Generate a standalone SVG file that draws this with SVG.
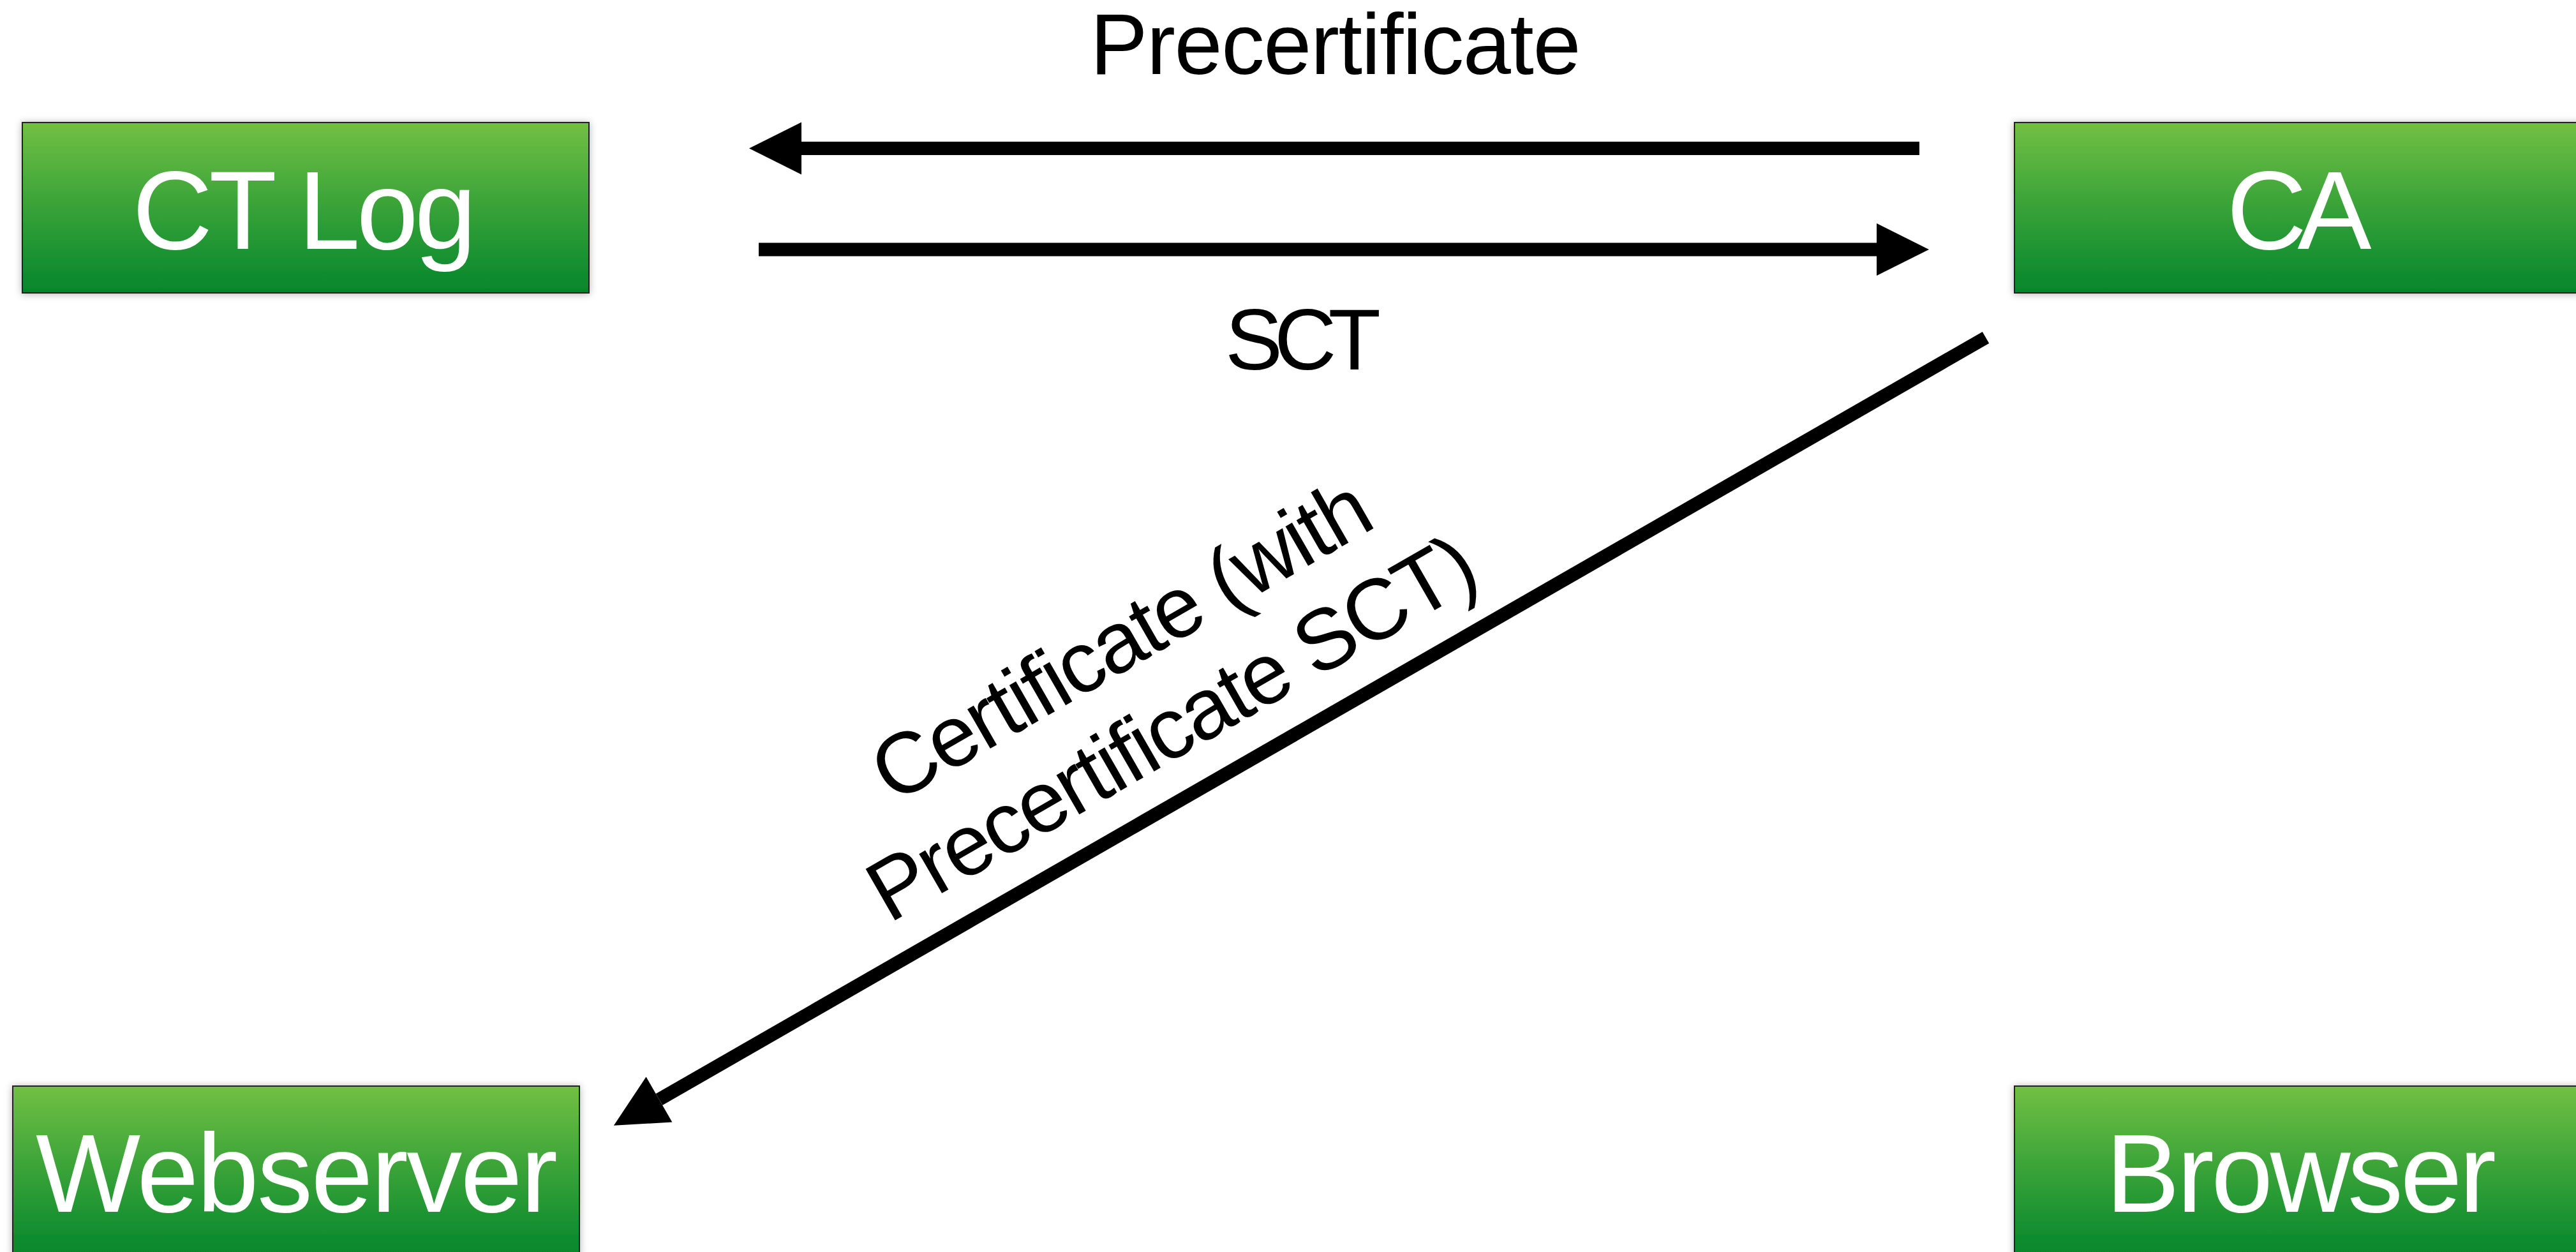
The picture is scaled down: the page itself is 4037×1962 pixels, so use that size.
<svg xmlns="http://www.w3.org/2000/svg" width="4037" height="1962" viewBox="0 0 4037 1962">
  <defs>
    <linearGradient id="green" x1="0" y1="0" x2="0" y2="1">
      <stop offset="0" stop-color="#72c044"/>
      <stop offset="0.5" stop-color="#38a238"/>
      <stop offset="1" stop-color="#04862c"/>
    </linearGradient>
    <filter id="shadow" x="-10%" y="-20%" width="120%" height="140%">
      <feDropShadow dx="0" dy="1" stdDeviation="6" flood-color="#000" flood-opacity="0.3"/>
    </filter>
    <marker id="head" markerUnits="userSpaceOnUse" markerWidth="84" markerHeight="84" refX="0" refY="41" orient="auto" overflow="visible">
      <path d="M0,0 L82,41 L0,82 Z" fill="#000"/>
    </marker>
    <style>
      .box { fill: url(#green); stroke: #222; stroke-width: 2; filter: url(#shadow); }
      .nlabel { font-family: "Liberation Sans", Arial, sans-serif; font-size: 174px; fill: #fff; text-anchor: middle; }
      .elabel { font-family: "Liberation Sans", Arial, sans-serif; font-size: 135px; fill: #000; text-anchor: middle; }
      .conn { stroke: #000; stroke-width: 21; fill: none; marker-end: url(#head); }
    </style>
  </defs>
  <rect width="4037" height="1962" fill="#fff"/>

  <g id="connectors">
    <line class="conn" x1="3008" y1="232.5" x2="1256" y2="232.5"/>
    <line class="conn" x1="1189" y1="391" x2="2941" y2="391"/>
    <line class="conn" stroke-width="20" x1="3112" y1="529" x2="1033" y2="1723"/>
    <text class="elabel" x="2093" y="116" textLength="769" lengthAdjust="spacing">Precertificate</text>
    <text class="elabel" x="2042" y="579" textLength="244" lengthAdjust="spacing">SCT</text>
    <g transform="translate(1780,1042) rotate(-29.88)">
      <text class="elabel" x="0" y="0" textLength="877" lengthAdjust="spacing">Certificate (with</text>
      <text class="elabel" x="0" y="159" textLength="1075" lengthAdjust="spacing">Precertificate SCT)</text>
    </g>
  </g>

  <g id="node-ctlog">
    <rect class="box" x="35" y="192" width="888" height="267"/>
    <text class="nlabel" x="477" y="390" textLength="539" lengthAdjust="spacing">CT Log</text>
  </g>
  <g id="node-ca">
    <rect class="box" x="3157" y="192" width="888" height="267"/>
    <text class="nlabel" x="3603" y="390" textLength="227" lengthAdjust="spacing">CA</text>
  </g>
  <g id="node-webserver">
    <rect class="box" x="20" y="1702" width="888" height="267"/>
    <text class="nlabel" x="465" y="1899" textLength="818" lengthAdjust="spacing">Webserver</text>
  </g>
  <g id="node-browser">
    <rect class="box" x="3157" y="1702" width="888" height="267"/>
    <text class="nlabel" x="3606" y="1899" textLength="612" lengthAdjust="spacing">Browser</text>
  </g>
</svg>
